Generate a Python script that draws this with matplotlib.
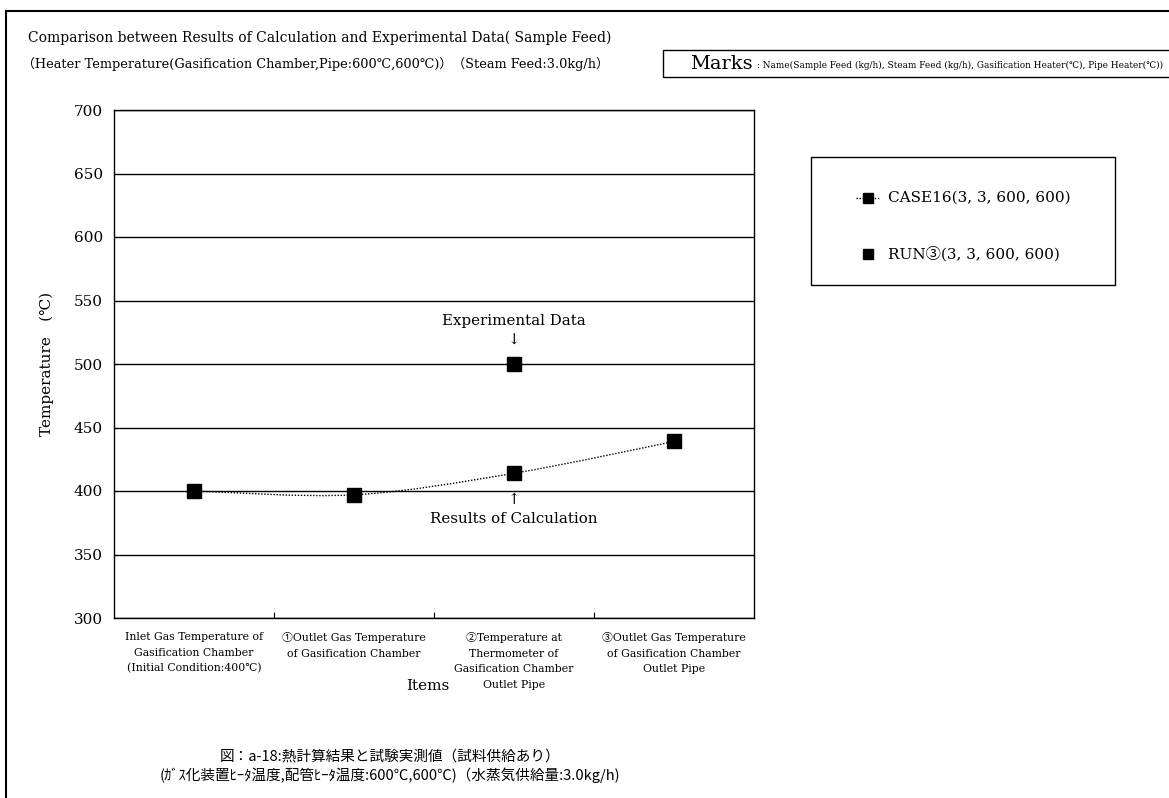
import numpy as np
import matplotlib
matplotlib.use("Agg")
from matplotlib import pyplot as plt
from matplotlib.path import Path
from matplotlib.patches import PathPatch, Rectangle
from matplotlib.lines import Line2D

plt.rcParams['font.family'] = ['DejaVu Serif', 'Noto Sans CJK JP']

items = ["Inlet Gas Temperature of\nGasification Chamber\n(Initial Condition:400\u2103)",
         "\u2460Outlet Gas Temperature\nof Gasification Chamber",
         "\u2461Temperature at\nThermometer of\nGasification Chamber\nOutlet Pipe",
         "\u2462Outlet Gas Temperature\nof Gasification Chamber\nOutlet Pipe"]
case16 = [400, 397, 414, 439]          # calculation results
run3_item = 3                           # experimental point sits on item 3
run3 = [500]
yticks = [300, 350, 400, 450, 500, 550, 600, 650, 700]

W, H = 1169, 798
fig = plt.figure(figsize=(W / 100, H / 100), dpi=100)

def box(x0, y0, x1, y1):
    return [x0 / W, 1 - y1 / H, (x1 - x0) / W, (y1 - y0) / H]

ax = fig.add_axes(box(114, 110, 754, 618))

xs = np.arange(1, len(items) + 1)

# smoothed line through the calculation points (bezier segments)
pts = np.column_stack([xs, case16]).astype(float)
verts = [pts[0]]
codes = [Path.MOVETO]
for i in range(len(pts) - 1):
    p0 = pts[i - 1] if i > 0 else pts[i]
    p3 = pts[i + 2] if i + 2 < len(pts) else pts[i + 1]
    c1 = pts[i] + (pts[i + 1] - p0) / 6
    c2 = pts[i + 1] - (p3 - pts[i]) / 6
    verts += [c1, c2, pts[i + 1]]
    codes += [Path.CURVE4] * 3
ax.add_patch(PathPatch(Path(verts, codes), fill=False, ec='black', lw=1.0,
                       ls=(0, (1, 1.2)), zorder=3))
ax.plot(xs, case16, ls='none', marker='s', ms=10.5, color='black', zorder=4)
ax.plot([run3_item], run3, ls='none', marker='s', ms=10.5, color='black', zorder=4)

ax.set_xlim(0.5, len(items) + 0.5)
ax.set_ylim(300, 700)
ax.set_yticks(yticks)
ax.yaxis.grid(True, color='black', lw=1.0)
ax.set_axisbelow(True)
ax.tick_params(axis='y', length=0, pad=8, labelsize=11)
ax.set_xticks(np.arange(1.5, len(items), 1.0))
ax.set_xticklabels([])
ax.tick_params(axis='x', direction='in', length=4, width=0.8)
for s in ax.spines.values():
    s.set_color('black')
    s.set_linewidth(1.0)

for x, lab in zip(xs, items):
    ax.text(x, 289, lab, ha='center', va='top', fontsize=7.8, linespacing=1.7,
            clip_on=False)
ax.text(2.46, 252, "Items", ha='center', va='top', fontsize=11)
ax.set_ylabel("Temperature\u3000(\u2103)", fontsize=11, labelpad=14)

# labels pointing at the experimental and calculated values on item 3
ax.text(3, 534, "Experimental Data", ha='center', va='center', fontsize=10.8)
ax.text(3, 518, "\u2193", ha='center', va='center', fontsize=10.8)
ax.text(3, 393, "\u2191", ha='center', va='center', fontsize=10.8)
ax.text(3, 378, "Results of Calculation", ha='center', va='center', fontsize=10.8)

# outer frame (left and top edges)
fig.add_artist(Line2D([6 / W, 6 / W], [0, 1 - 11 / H], color='black', lw=1.5))
fig.add_artist(Line2D([6 / W, 1], [1 - 11 / H, 1 - 11 / H], color='black', lw=1.5))

fig.text(28 / W, 1 - 38 / H, "Comparison between Results of Calculation and Experimental Data( Sample Feed)",
         fontsize=10, va='center')
fig.text(22 / W, 1 - 64 / H,
         "\uff08Heater Temperature(Gasification Chamber,Pipe:600\u2103,600\u2103)\uff09\uff08Steam Feed:3.0kg/h\uff09",
         fontsize=9.3, va='center')

# marks box
fig.add_artist(Rectangle((663 / W, 1 - 77 / H), (W - 663) / W + 0.01, 27 / H,
                         transform=fig.transFigure, fill=False, ec='black', lw=1.0))
fig.text(690 / W, 1 - 64 / H, "Marks", fontsize=14, va='center')
fig.text(757 / W, 1 - 65 / H,
         ": Name(Sample Feed (kg/h), Steam Feed (kg/h), Gasification Heater(\u2103), Pipe Heater(\u2103))",
         fontsize=6.4, va='center')

# legend box
fig.add_artist(Rectangle((811 / W, 1 - 285 / H), 304 / W, 128 / H,
                         transform=fig.transFigure, fill=False, ec='black', lw=1.0))
fig.add_artist(Line2D([856 / W, 880 / W], [1 - 198 / H] * 2, color='black', lw=1.0,
                      ls=(0, (1, 1.2))))
fig.add_artist(Line2D([868 / W], [1 - 198 / H], marker='s', ms=6.5, color='black', ls='none'))
fig.add_artist(Line2D([868 / W], [1 - 254 / H], marker='s', ms=6.5, color='black', ls='none'))
fig.text(888 / W, 1 - 198 / H, "CASE16(3, 3, 600, 600)", fontsize=11, va='center')
fig.text(888 / W, 1 - 254 / H, "RUN\u2462(3, 3, 600, 600)", fontsize=11, va='center')

fig.text(390 / W, 1 - 757 / H,
         "図：a-18:熱計算結果と試験実測値（試料供給あり）",
         fontsize=10.5, ha='center', va='center', family=['Noto Sans CJK JP'])
fig.text(390 / W, 1 - 775 / H,
         "(ｶﾞｽ化装置ﾋｰﾀ温度,配管ﾋｰﾀ温度:600℃,600℃)（水蒸気供給量:3.0kg/h)",
         fontsize=10.5, ha='center', va='center', family=['Noto Sans CJK JP'])

fig.savefig("out.png", dpi=100)
